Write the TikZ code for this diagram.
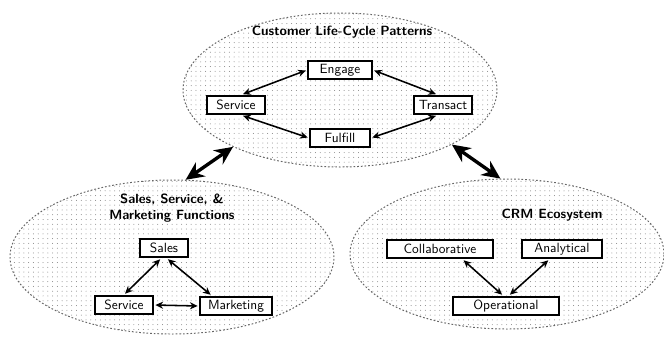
\documentclass[tikz,border=0pt]{standalone}
\usepackage{tikz}
\usetikzlibrary{shapes.geometric, arrows.meta, positioning, patterns.meta}

\begin{document}
\begin{tikzpicture}[
    blob/.style={ellipse, draw=black!60, line width=0.7pt, dash pattern=on 1.2pt off 1.4pt,
        pattern={Dots[distance=3.4pt, radius=0.35pt]}, pattern color=black!50},
    box/.style={rectangle, draw, line width=1.3pt, fill=white, minimum height=0.47cm, inner sep=1.5pt, font=\sffamily\fontsize{9.5}{11}\selectfont},
    heading/.style={font=\sffamily\fontsize{9.5}{11}\selectfont\bfseries, align=center},
    link/.style={<->, >={Stealth[length=5.5pt, width=5pt]}, line width=1.1pt, shorten <=1pt, shorten >=1pt},
    biglink/.style={<->, >={Stealth[length=13pt, width=12pt]}, line width=2.4pt}
]
\useasboundingbox (0,0) rectangle (16.6,-8.475);

% Regions
\node[blob, minimum width=7.85cm, minimum height=3.85cm] (clp) at (8.5,-2.25) {};
\node[blob, minimum width=8.1cm, minimum height=3.85cm] (ssm) at (4.3,-6.425) {};
\node[blob, minimum width=7.85cm, minimum height=3.75cm] (crm) at (12.675,-6.35) {};

% Customer life-cycle
\node[heading] (clptitle) at (8.55,-0.8) {Customer Life-Cycle Patterns};
\node[box, minimum width=1.6cm] (engage) at (8.5,-1.75) {Engage};
\node[box, minimum width=1.45cm] (service) at (5.9,-2.625) {Service};
\node[box, minimum width=1.45cm] (transact) at (11.075,-2.625) {Transact};
\node[box, minimum width=1.5cm] (fulfill) at (8.5,-3.45) {Fulfill};

\draw[link] ([xshift=4pt]service.north) -- (engage.west);
\draw[link] (engage.east) -- ([xshift=-4pt]transact.north);
\draw[link] ([xshift=4pt]service.south) -- (fulfill.west);
\draw[link] (fulfill.east) -- ([xshift=-4pt]transact.south);

% Sales, service and marketing
\node[heading] (ssmtitle) at (4.3,-5.2) {Sales, Service, \&\\Marketing Functions};
\node[box, minimum width=1.2cm] (sales) at (4.1,-6.2) {Sales};
\node[box, minimum width=1.45cm] (service2) at (3.1,-7.625) {Service};
\node[box, minimum width=1.8cm] (marketing) at (5.9,-7.65) {Marketing};

\draw[link] ([xshift=-2pt]sales.south) -- (service2.north);
\draw[link] ([xshift=2pt]sales.south) -- ([xshift=9pt]marketing.north west);
\draw[link] (service2.east) -- (marketing.west);

% CRM ecosystem
\node[heading] (crmtitle) at (13.8,-5.375) {CRM Ecosystem};
\node[box, minimum width=2.65cm] (collab) at (11.0,-6.225) {Collaborative};
\node[box, minimum width=2.0cm] (analytic) at (14.05,-6.225) {Analytical};
\node[box, minimum width=2.65cm] (operate) at (12.65,-7.65) {Operational};

\draw[link] ([xshift=16pt]collab.south) -- ([xshift=-2pt]operate.north);
\draw[link] ([xshift=-9pt]analytic.south) -- ([xshift=2pt]operate.north);

% Links between regions
\draw[biglink] (ssm.80) -- (clp.208);
\draw[biglink] (clp.334) -- (crm.95);
\end{tikzpicture}
\end{document}
